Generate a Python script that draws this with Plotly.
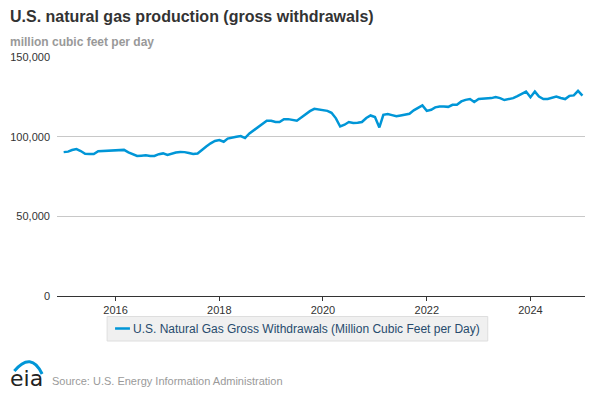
import pandas as pd
import plotly.graph_objects as go

# ---- data ----
start_month = "2015-01-01"
values = [
    # 2015
    90300, 90600, 91600, 92200, 91000, 89300, 89100, 89100, 90900, 91100, 91100, 91200,
    # 2016
    91400, 91800, 91700, 90200, 89300, 87900, 88100, 88300, 87900, 87900, 89000, 89500,
    # 2017
    88500, 89300, 90100, 90400, 90300, 89700, 89100, 89400, 91800, 93800, 95800, 97300,
    # 2018
    97900, 96800, 98800, 99500, 99900, 100400, 99100, 102000, 104000, 105800, 107700, 110000,
    # 2019
    110000, 109200, 109200, 111000, 111000, 110700, 110000, 112000, 114200, 116000, 117500, 117000,
    # 2020
    116700, 116200, 115000, 111500, 106400, 107500, 109200, 108600, 108700, 109200, 111700, 113300,
    # 2021
    112300, 105800, 113700, 114200, 113500, 112800, 113300, 114000, 114400, 116500, 118200, 119600,
    # 2022
    116200, 116900, 118400, 118900, 118900, 118700, 120000, 120000, 122100, 123100, 123600, 121700,
    # 2023
    123600, 123700, 123800, 124200, 124800, 124200, 123000, 123600, 124200, 125500, 127000, 128300,
    # 2024
    124800, 128300, 125200, 123600, 123600, 124200, 125200, 124300, 123600, 125600, 125900, 128800,
    # 2025
    125800,
]
months = pd.date_range(start_month, periods=len(values), freq="MS")
series_name = "U.S. Natural Gas Gross Withdrawals (Million Cubic Feet per Day)"
y_ticks = [0, 50000, 100000, 150000]
title_text = "U.S. natural gas production (gross withdrawals)"
subtitle_text = "million cubic feet per day"
source_text = "Source: U.S. Energy Information Administration"

# ---- layout geometry (pixels) ----
W, H = 595, 396
ML, MR, MT, MB = 53, 10, 57, 100
PW, PH = W - ML - MR, H - MT - MB


def px(x):
    return (x - ML) / PW


def py(y):
    return (H - MB - y) / PH


FONT = "Arial, 'Liberation Sans', sans-serif"
BLUE = "#0096d7"

fig = go.Figure()
fig.add_trace(go.Scatter(
    x=months, y=values, mode="lines", name=series_name,
    line=dict(color=BLUE, width=2.5), showlegend=False,
    hovertemplate="%{x|%b %Y}: %{y:,}<extra></extra>",
))

fig.update_layout(
    width=W, height=H,
    margin=dict(l=ML, r=MR, t=MT, b=MB, pad=0),
    paper_bgcolor="white", plot_bgcolor="white",
    font=dict(family=FONT, size=11, color="#333333"),
    showlegend=False,
    xaxis=dict(
        type="date",
        range=["2014-11-15", "2025-01-19"],
        tick0="2016-01-01", dtick="M24", tickformat="%Y",
        showgrid=False, zeroline=False,
        showline=True, linecolor="#333333", linewidth=1,
        ticks="outside", ticklen=4, tickcolor="#333333",
        tickfont=dict(family=FONT, size=11, color="#333333"),
    ),
    yaxis=dict(
        range=[0, 150000],
        tickvals=y_ticks, tickformat=",d",
        showgrid=True, gridcolor="#c8c8c8", gridwidth=1,
        zeroline=False, showline=False,
        ticks="", ticklabelstandoff=6,
        tickfont=dict(family=FONT, size=11, color="#333333"),
    ),
)

annotations = [
    dict(text="<b>" + title_text + "</b>", x=px(4), y=py(16), xanchor="left", yanchor="middle",
         font=dict(family=FONT, size=16, color="#333333")),
    dict(text="<b>" + subtitle_text + "</b>", x=px(4), y=py(41.5), xanchor="left", yanchor="middle",
         font=dict(family=FONT, size=12, color="#999999")),
    dict(text=series_name, x=px(128), y=py(328.5), xanchor="left", yanchor="middle",
         font=dict(family=FONT, size=12, color="#274b6d")),
    dict(text="eia", x=px(4), y=py(378), xanchor="left", yanchor="middle",
         font=dict(family="'DejaVu Sans', sans-serif", size=22, color="#222222")),
    dict(text=source_text, x=px(46), y=py(381), xanchor="left", yanchor="middle",
         font=dict(family=FONT, size=11, color="#9a9a9a")),
]
for a in annotations:
    a.update(xref="paper", yref="paper", showarrow=False)
fig.update_layout(annotations=annotations)

shapes = [
    # legend box
    dict(type="rect", xref="paper", yref="paper", x0=px(103.5), x1=px(487), y0=py(316.5), y1=py(341),
         fillcolor="#f0f0f0", line=dict(color="#dedede", width=1), layer="below"),
    # legend symbol
    dict(type="line", xref="paper", yref="paper", x0=px(111.5), x1=px(126.5), y0=py(328.5), y1=py(328.5),
         line=dict(color=BLUE, width=2.5)),
    # eia logo swoosh
    dict(type="path", xref="paper", yref="paper",
         path=f"M {px(10)} {py(371)} Q {px(27)} {py(351)} {px(38)} {py(374)}",
         line=dict(color=BLUE, width=3)),
]
fig.update_layout(shapes=shapes)

fig.write_html(
    "out.html",
    config={"displayModeBar": False},
    post_script="document.body.style.margin='0';document.body.style.overflow='hidden';",
)
